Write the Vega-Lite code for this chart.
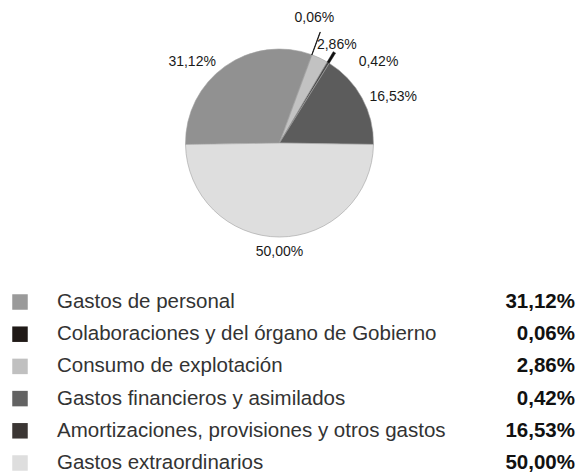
{
  "$schema": "https://vega.github.io/schema/vega-lite/v6.json",
  "padding": 0,
  "spacing": 0,
  "background": "white",
  "config": {"view": {"stroke": null}, "font": "Liberation Sans", "concat": {"spacing": 0}},
  "resolve": {"scale": {"color": "independent"}},
  "datasets": {
    "gastos": [
      {"concepto": "Gastos de personal", "valor": 31.12, "etiqueta": "31,12%", "orden": 1},
      {"concepto": "Colaboraciones y del órgano de Gobierno", "valor": 0.06, "etiqueta": "0,06%", "orden": 2},
      {"concepto": "Consumo de explotación", "valor": 2.86, "etiqueta": "2,86%", "orden": 3},
      {"concepto": "Gastos financieros y asimilados", "valor": 0.42, "etiqueta": "0,42%", "orden": 4},
      {"concepto": "Amortizaciones, provisiones y otros gastos", "valor": 16.53, "etiqueta": "16,53%", "orden": 5},
      {"concepto": "Gastos extraordinarios", "valor": 50.0, "etiqueta": "50,00%", "orden": 6}
    ]
  },
  "vconcat": [
    {
      "width": 559,
      "height": 286,
      "data": {"name": "gastos"},
      "encoding": {
        "theta": {"field": "valor", "type": "quantitative", "stack": true, "scale": {"range": [4.69706, 10.98025]}},
        "order": {"field": "orden", "type": "quantitative"}
      },
      "layer": [
        {
          "mark": {"type": "arc", "outerRadius": 94, "stroke": "#a0a0a0", "strokeWidth": 0.6},
          "encoding": {
            "color": {
              "field": "concepto", "type": "nominal", "legend": null,
              "scale": {
                "domain": ["Gastos de personal", "Colaboraciones y del órgano de Gobierno", "Consumo de explotación", "Gastos financieros y asimilados", "Amortizaciones, provisiones y otros gastos", "Gastos extraordinarios"],
                "range": ["#919191", "#1e1a18", "#c2c2c2", "#4a4a4a", "#5c5c5c", "#dedede"]
              }
            }
          }
        },
        {
          "mark": {"type": "arc", "radius": 94, "radius2": 118, "fill": "#111111", "stroke": "#111111", "strokeWidth": 0.8},
          "encoding": {
            "opacity": {"condition": {"test": "datum.orden == 2", "value": 1}, "value": 0}
          }
        },
        {
          "mark": {"type": "arc", "radius": 94, "radius2": 106, "fill": "#111111", "stroke": "#111111", "strokeWidth": 0.5},
          "encoding": {
            "opacity": {"condition": {"test": "datum.orden == 4", "value": 1}, "value": 0}
          }
        },
        {
          "mark": {"type": "text", "radius": 118, "dx": -19, "dy": 15, "fontSize": 14, "color": "#1a1a1a", "baseline": "middle"},
          "encoding": {"text": {"condition": {"test": "datum.orden == 1", "field": "etiqueta"}, "value": ""}}
        },
        {
          "mark": {"type": "text", "radius": 133, "dx": -11, "dy": 0, "fontSize": 14, "color": "#1a1a1a", "baseline": "middle"},
          "encoding": {"text": {"condition": {"test": "datum.orden == 2", "field": "etiqueta"}, "value": ""}}
        },
        {
          "mark": {"type": "text", "radius": 108, "dx": 11, "dy": 0, "fontSize": 14, "color": "#1a1a1a", "baseline": "middle"},
          "encoding": {"text": {"condition": {"test": "datum.orden == 3", "field": "etiqueta"}, "value": ""}}
        },
        {
          "mark": {"type": "text", "radius": 110, "dx": 42, "dy": 13, "fontSize": 14, "color": "#1a1a1a", "baseline": "middle"},
          "encoding": {"text": {"condition": {"test": "datum.orden == 4", "field": "etiqueta"}, "value": ""}}
        },
        {
          "mark": {"type": "text", "radius": 125, "dx": 4, "dy": 14, "fontSize": 14, "color": "#1a1a1a", "baseline": "middle"},
          "encoding": {"text": {"condition": {"test": "datum.orden == 5", "field": "etiqueta"}, "value": ""}}
        },
        {
          "mark": {"type": "text", "radius": 109, "dx": 0, "dy": 0, "fontSize": 14, "color": "#1a1a1a", "baseline": "middle"},
          "encoding": {"text": {"condition": {"test": "datum.orden == 6", "field": "etiqueta"}, "value": ""}}
        }
      ]
    },
    {
      "width": 581,
      "height": 187,
      "data": {"name": "gastos"},
      "encoding": {
        "y": {
          "field": "concepto", "type": "nominal", "axis": null,
          "sort": ["Gastos de personal", "Colaboraciones y del órgano de Gobierno", "Consumo de explotación", "Gastos financieros y asimilados", "Amortizaciones, provisiones y otros gastos", "Gastos extraordinarios"],
          "scale": {"type": "point", "range": [13, 174], "padding": 0}
        }
      },
      "layer": [
        {
          "mark": {"type": "point", "shape": "square", "filled": true, "size": 240, "opacity": 1, "x": 20},
          "encoding": {
            "color": {
              "field": "concepto", "type": "nominal", "legend": null,
              "scale": {
                "domain": ["Gastos de personal", "Colaboraciones y del órgano de Gobierno", "Consumo de explotación", "Gastos financieros y asimilados", "Amortizaciones, provisiones y otros gastos", "Gastos extraordinarios"],
                "range": ["#9a9a9a", "#201a17", "#c0c0c0", "#636363", "#3b3634", "#dedede"]
              }
            }
          }
        },
        {
          "mark": {"type": "text", "x": 57, "align": "left", "baseline": "middle", "fontSize": 20.5, "color": "#333333"},
          "encoding": {"text": {"field": "concepto"}}
        },
        {
          "mark": {"type": "text", "x": 575, "align": "right", "baseline": "middle", "fontSize": 20.5, "fontWeight": "bold", "color": "#111111"},
          "encoding": {"text": {"field": "etiqueta"}}
        }
      ]
    }
  ]
}
